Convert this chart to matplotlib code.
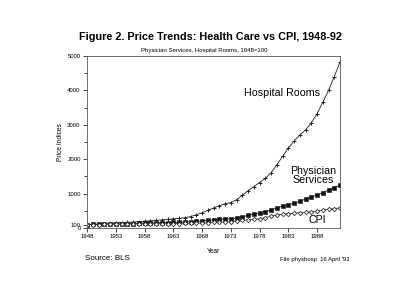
import numpy as np
import matplotlib
matplotlib.use('Agg')
import matplotlib.pyplot as plt

plt.rcParams['font.family'] = ['Liberation Sans', 'DejaVu Sans']

# %% ------ data (1948 = 100)
years = np.arange(1948, 1993)
hospital = [100, 110, 118, 130, 142, 150, 158, 165, 172, 185, 198, 210, 222,
            235, 250, 265, 280, 300, 330, 385, 440, 510, 580, 650, 700, 740,
            820, 950, 1080, 1200, 1320, 1440, 1600, 1830, 2080, 2320, 2530,
            2700, 2850, 3050, 3320, 3650, 4000, 4400, 4820]
physician = [100, 103, 106, 110, 114, 118, 122, 125, 130, 135, 141, 146, 150,
             154, 158, 162, 167, 172, 182, 196, 208, 222, 236, 252, 260, 268,
             290, 329, 365, 400, 435, 475, 524, 580, 635, 680, 720, 776, 840,
             905, 960, 1030, 1101, 1175, 1241]
cpi = [100, 99, 100, 108, 110, 111, 112, 111, 113, 117, 120, 121, 123, 124,
       125, 127, 129, 131, 134, 139, 144, 152, 161, 168, 173, 184, 205, 223,
       236, 251, 271, 301, 342, 377, 400, 413, 431, 446, 455, 471, 491, 515,
       542, 565, 582]
xtick_years = [1948, 1953, 1958, 1963, 1968, 1973, 1978, 1983, 1988]
ytick_vals = [0, 100, 1000, 2000, 3000, 4000, 5000]

# %% ------ plot
fig = plt.figure(figsize=(4.0, 3.05), dpi=100)
ax = fig.add_axes([0.2175, 0.2525, 0.6325, 0.5640])

ax.plot(years, hospital, color='#222222', lw=0.6, marker='+', ms=3, mew=0.7)
ax.plot(years, physician, color='#111111', lw=0.6, marker='s', ms=2.6,
        mfc='#111111', mew=0.4)
ax.plot(years, cpi, color='#333333', lw=0.6, marker='D', ms=2.2,
        mfc='white', mew=0.6)

ax.set_xlim(1948, 1992)
ax.set_ylim(0, 5000)
ax.set_xticks(xtick_years)
ax.set_xticklabels([str(y) for y in xtick_years], fontsize=4.3)
ax.set_yticks(ytick_vals)
ax.set_yticklabels([str(v) for v in ytick_vals], fontsize=4.3)
ax.set_yticks(np.arange(500, 5000, 1000), minor=True)
ax.tick_params(axis='both', which='major', length=3, width=0.5, pad=1.5)
ax.tick_params(axis='y', which='minor', length=2, width=0.5)
for s in ax.spines.values():
    s.set_linewidth(0.6)
    s.set_color('#555555')

ax.set_xlabel('Year', fontsize=4.8, labelpad=6)
ax.set_ylabel('Price Indices', fontsize=4.8, labelpad=2)

# line labels
ax.text(1981.9, 3920, 'Hospital Rooms', fontsize=7.7, ha='center', va='center')
ax.text(1987.3, 1530, 'Physician\nServices', fontsize=7.7, ha='center',
        va='center', linespacing=0.95)
ax.text(1988.0, 225, 'CPI', fontsize=7.7, ha='center', va='center')

# titles and notes
fig.text(0.527, 0.878, 'Figure 2. Price Trends: Health Care vs CPI, 1948-92',
         fontsize=7.8, fontweight='bold', ha='center', va='center')
fig.text(0.51, 0.836, 'Physician Services, Hospital Rooms, 1948=100',
         fontsize=4.3, ha='center', va='center')
fig.text(0.2125, 0.154, 'Source: BLS', fontsize=5.8, ha='left', va='center')
fig.text(0.875, 0.148, "File physhosp  16 April '93", fontsize=4.3,
         ha='right', va='center')

plt.savefig('out.png', dpi=100)
